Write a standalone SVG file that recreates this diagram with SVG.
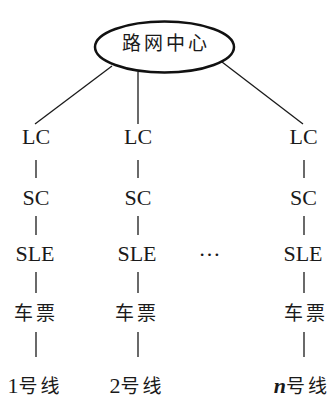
<svg xmlns="http://www.w3.org/2000/svg" width="331" height="399" viewBox="0 0 331 399">
<style>
.lat{font-family:"Liberation Serif","Times New Roman",serif;font-size:22px;fill:#1a1a1a;text-anchor:middle}
.cjk{font-family:"Noto Sans CJK SC","Noto Sans",sans-serif;font-size:19px;fill:#1a1a1a;text-anchor:middle;letter-spacing:3px}
.ln{stroke:#1a1a1a;stroke-width:1.3;fill:none}
</style>
<rect width="331" height="399" fill="#fff"/>
<g id="connectors" class="ln">
<line x1="112" y1="66" x2="35" y2="124"/>
<line x1="138" y1="72" x2="138" y2="124"/>
<line x1="222" y1="62" x2="303" y2="124"/>
<line x1="36" y1="160" x2="36" y2="178"/>
<line x1="36" y1="216" x2="36" y2="235"/>
<line x1="36" y1="272" x2="36" y2="293"/>
<line x1="36" y1="332" x2="36" y2="357"/>
<line x1="138" y1="160" x2="138" y2="178"/>
<line x1="138" y1="216" x2="138" y2="235"/>
<line x1="138" y1="272" x2="138" y2="293"/>
<line x1="138" y1="332" x2="138" y2="357"/>
<line x1="304" y1="160" x2="304" y2="178"/>
<line x1="304" y1="216" x2="304" y2="235"/>
<line x1="304" y1="272" x2="304" y2="293"/>
<line x1="304" y1="332" x2="304" y2="357"/>
</g>
<g id="center">
<ellipse cx="164.5" cy="47" rx="69.5" ry="25.5" fill="#fff" stroke="#111" stroke-width="2.5"/>
<text class="cjk" x="166" y="50">路网中心</text>
</g>
<g id="col1">
<text class="lat" x="36" y="144">LC</text>
<text class="lat" x="36" y="205">SC</text>
<text class="lat" x="35" y="261">SLE</text>
<text class="cjk" x="36" y="320">车票</text>
<text class="lat" x="35" y="393">1<tspan class="cjk">号线</tspan></text>
</g>
<g id="col2">
<text class="lat" x="138" y="144">LC</text>
<text class="lat" x="138" y="205">SC</text>
<text class="lat" x="137" y="261">SLE</text>
<text class="cjk" x="137" y="320">车票</text>
<text class="lat" x="137" y="393">2<tspan class="cjk">号线</tspan></text>
</g>
<g id="col3">
<text class="lat" x="303.5" y="144">LC</text>
<text class="lat" x="303.5" y="205">SC</text>
<text class="lat" x="303" y="261">SLE</text>
<text class="cjk" x="306" y="320">车票</text>
<text class="lat" x="302" y="393"><tspan font-style="italic" font-weight="bold">n</tspan><tspan class="cjk">号线</tspan></text>
</g>
<g id="ellipsis">
<text class="lat" x="209.5" y="256">…</text>
</g>
</svg>
